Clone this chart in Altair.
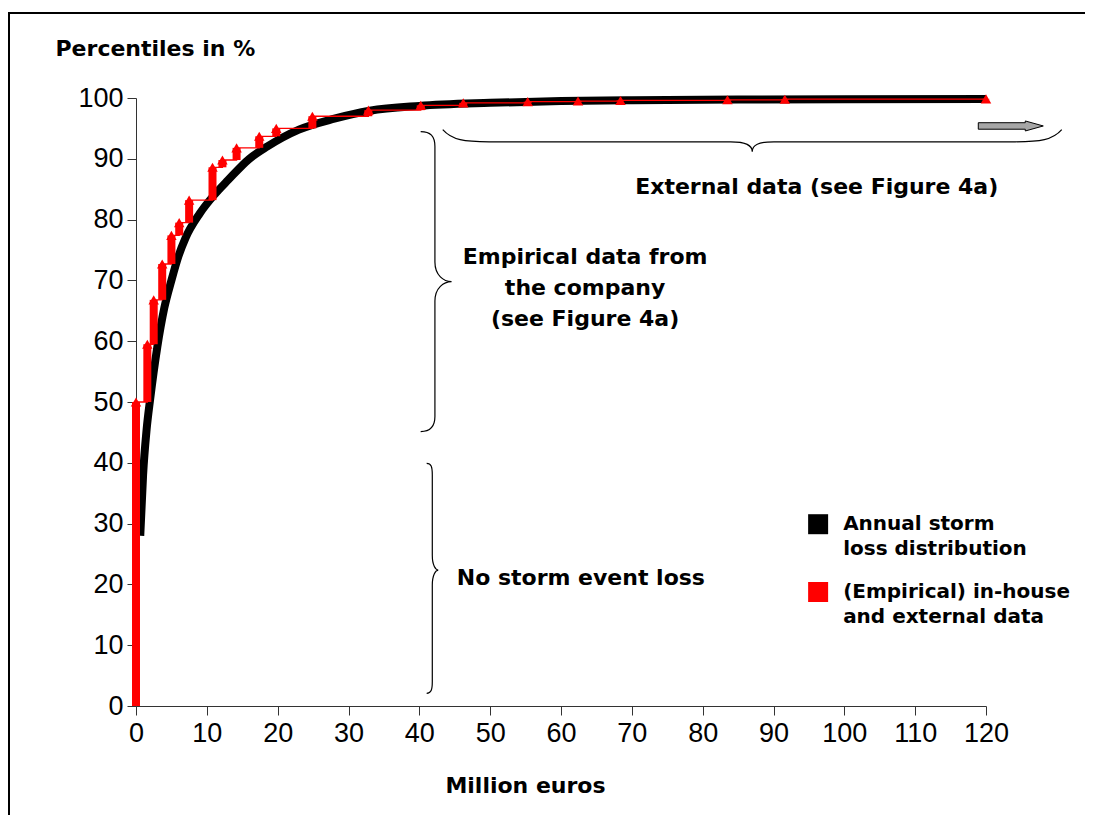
import altair as alt
import pandas as pd

# ---- data ----
# Annual storm loss distribution (smooth CDF), x in million euros, y in %
dist_x = [0.6, 1.0, 1.5, 2.0, 3.0, 4.0, 5.0, 6.0, 7.0, 9.0, 11, 13, 16, 18.5, 23, 28, 33, 40, 50, 60, 70, 85, 100, 120]
dist_y = [28, 38, 45.5, 50.5, 59, 65.5, 70, 74, 77, 81, 84, 86.5, 90, 92, 94.8, 96.6, 97.9, 98.7, 99.2, 99.5, 99.65, 99.75, 99.8, 99.85]

# (Empirical) in-house and external data: step positions and levels
emp_x = [0, 1.6, 2.5, 3.7, 5.0, 6.1, 7.5, 10.8, 12.2, 14.2, 17.4, 19.8, 24.9, 32.8, 40.2, 46.2, 55.3, 62.4, 68.4, 83.5, 91.6, 120]
emp_y = [50, 59.5, 66.8, 72.7, 77.4, 79.5, 83.2, 88.6, 89.8, 91.8, 93.7, 95.0, 97.0, 98.0, 98.8, 99.2, 99.4, 99.5, 99.6, 99.7, 99.8, 99.85]

x_ticks = list(range(0, 121, 10))
y_ticks = list(range(0, 101, 10))

annot_text = ["External data (see Figure 4a)", "Empirical data from\nthe company\n(see Figure 4a)", "No storm event loss"]
annot_x = [96.1, 63.4, 62.8]
annot_y = [85.4, 73.9, 21.05]

legend_labels = ["Annual storm\nloss distribution", "(Empirical) in-house\nand external data"]
legend_colors = ["#000000", "#ff0000"]
legend_x = [96.3, 96.3]
legend_y = [29.9, 18.75]

# ---- tables ----
dist_df = pd.DataFrame({"x": dist_x, "y": dist_y})
emp_df = pd.DataFrame({"x": emp_x, "y": emp_y, "y0": [0] + emp_y[:-1]})
annot_df = pd.DataFrame({"x": annot_x, "y": annot_y, "t": annot_text})
leg_df = pd.DataFrame({"x": legend_x, "y": legend_y, "c": legend_colors, "t": legend_labels})

W, H = 850, 608

xscale = alt.Scale(domain=[0, 120], nice=False, zero=False)
yscale = alt.Scale(domain=[0, 100], nice=False, zero=False)
xaxis = alt.Axis(values=x_ticks, title="Million euros", grid=False,
                 labelFont="Liberation Sans", labelFontSize=27, labelColor="black",
                 labelPadding=5, tickSize=9, tickColor="#333", domainColor="#333",
                 titleFont="DejaVu Sans", titleFontSize=22, titleFontWeight="bold",
                 titleColor="black", titleX=389, titleY=79, titleBaseline="middle",
                 titleAlign="center", labelFlush=False)
yaxis = alt.Axis(values=y_ticks, title="Percentiles in %", grid=False,
                 labelFont="Liberation Sans", labelFontSize=27, labelColor="black",
                 labelPadding=4, tickSize=9, tickColor="#333", domainColor="#333",
                 titleFont="DejaVu Sans", titleFontSize=22, titleFontWeight="bold",
                 titleColor="black", titleAngle=0, titleX=-81, titleY=-50,
                 titleAlign="left", titleBaseline="middle", labelFlush=False)

def X(field="x"):
    return alt.X(f"{field}:Q", scale=xscale, axis=xaxis)

def Y(field="y"):
    return alt.Y(f"{field}:Q", scale=yscale, axis=yaxis)

one = pd.DataFrame({"a": [0]})
# outer frame (decoration): top and left edges only
frame_top = alt.Chart(one).mark_rule(color="black", strokeWidth=2).encode(
    x=alt.value(-127), x2=alt.value(W + 99), y=alt.value(-85))
frame_left = alt.Chart(one).mark_rule(color="black", strokeWidth=2).encode(
    x=alt.value(-127), y=alt.value(-86), y2=alt.value(H + 109))

dist_line = alt.Chart(dist_df).mark_line(
    color="black", strokeWidth=8, interpolate="monotone"
).encode(x=X(), y=Y())

emp_step = alt.Chart(emp_df).mark_line(
    color="#ff0000", strokeWidth=1.3, interpolate="step-after"
).encode(x=X(), y=Y())

emp_bars = alt.Chart(emp_df).mark_rule(
    color="#ff0000", strokeWidth=8
).encode(x=X(), y=Y("y0"), y2="y:Q")

emp_tri = alt.Chart(emp_df).mark_point(
    shape="triangle-up", filled=True, color="#ff0000", size=110, opacity=1
).encode(x=X(), y=Y())

# braces and arrow (annotation shapes)
brace1 = "M-0.095,-1 C-0.03,-1 0,-0.97 0,-0.9 L0,-0.13 C0,-0.04 0.06,0 0.111,0 C0.06,0 0,0.04 0,0.13 L0,0.9 C0,0.97 -0.03,1 -0.095,1"
brace2 = "M-0.049,-1 C-0.01,-1 0,-0.97 0,-0.9 L0,-0.2 C0,-0.11 0.03,-0.072 0.052,-0.072 C0.03,-0.072 0,-0.03 0,0.06 L0,0.9 C0,0.97 -0.01,1 -0.049,1"
brace3 = "M-1,-0.039 C-0.97,-0.005 -0.93,0 -0.85,0 L-0.07,0 C-0.02,0 0,0.01 0,0.032 C0,0.01 0.02,0 0.07,0 L0.85,0 C0.93,0 0.97,-0.005 1,-0.039"
arrow = "M-1,-0.1 L0.446,-0.1 L0.446,-0.154 L1,0 L0.446,0.154 L0.446,0.1 L-1,0.1 Z"

def shape_layer(path, cx, cy, size, **kw):
    return alt.Chart(pd.DataFrame({"x": [cx], "y": [cy]})).mark_point(
        shape=path, size=size, **kw
    ).encode(x=X(), y=Y())

b1 = shape_layer(brace1, 42.2, 69.8, 90000, filled=False, stroke="black", strokeWidth=1.2, opacity=1)
b2 = shape_layer(brace2, 41.83, 21.0, 52900, filled=False, stroke="black", strokeWidth=1.2, opacity=1)
b3 = shape_layer(brace3, 87.0, 92.8, 383161, filled=False, stroke="black", strokeWidth=1.2, opacity=1)
arr = shape_layer(arrow, 123.5, 95.4, 4225, filled=True, fill="#a6a6a6", stroke="black", strokeWidth=1, opacity=1)

annot = alt.Chart(annot_df).mark_text(
    font="DejaVu Sans", fontSize=22, fontWeight="bold", color="black",
    align="center", baseline="middle", lineBreak="\n", lineHeight=31
).encode(x=X(), y=Y(), text="t:N")

leg_sq = alt.Chart(leg_df).mark_square(size=400, opacity=1).encode(
    x=X(), y=Y(), color=alt.Color("c:N", scale=None)
)
leg_txt = alt.Chart(leg_df).mark_text(
    font="DejaVu Sans", fontSize=20, fontWeight="bold", color="black",
    align="left", baseline="top", lineBreak="\n", lineHeight=25, dx=25, dy=-10
).encode(x=X(), y=Y(), text="t:N")

chart = alt.layer(
    frame_top, frame_left, dist_line, emp_step, emp_bars, emp_tri, b1, b2, b3, arr, annot, leg_sq, leg_txt
).properties(
    width=W, height=H,
    autosize=alt.AutoSizeParams(type="none"),
    padding={"left": 128, "top": 90, "right": 99, "bottom": 109},
).configure(background="white").configure_view(stroke=None)

chart.save("out.html", embed_options={"renderer": "svg", "actions": False})
